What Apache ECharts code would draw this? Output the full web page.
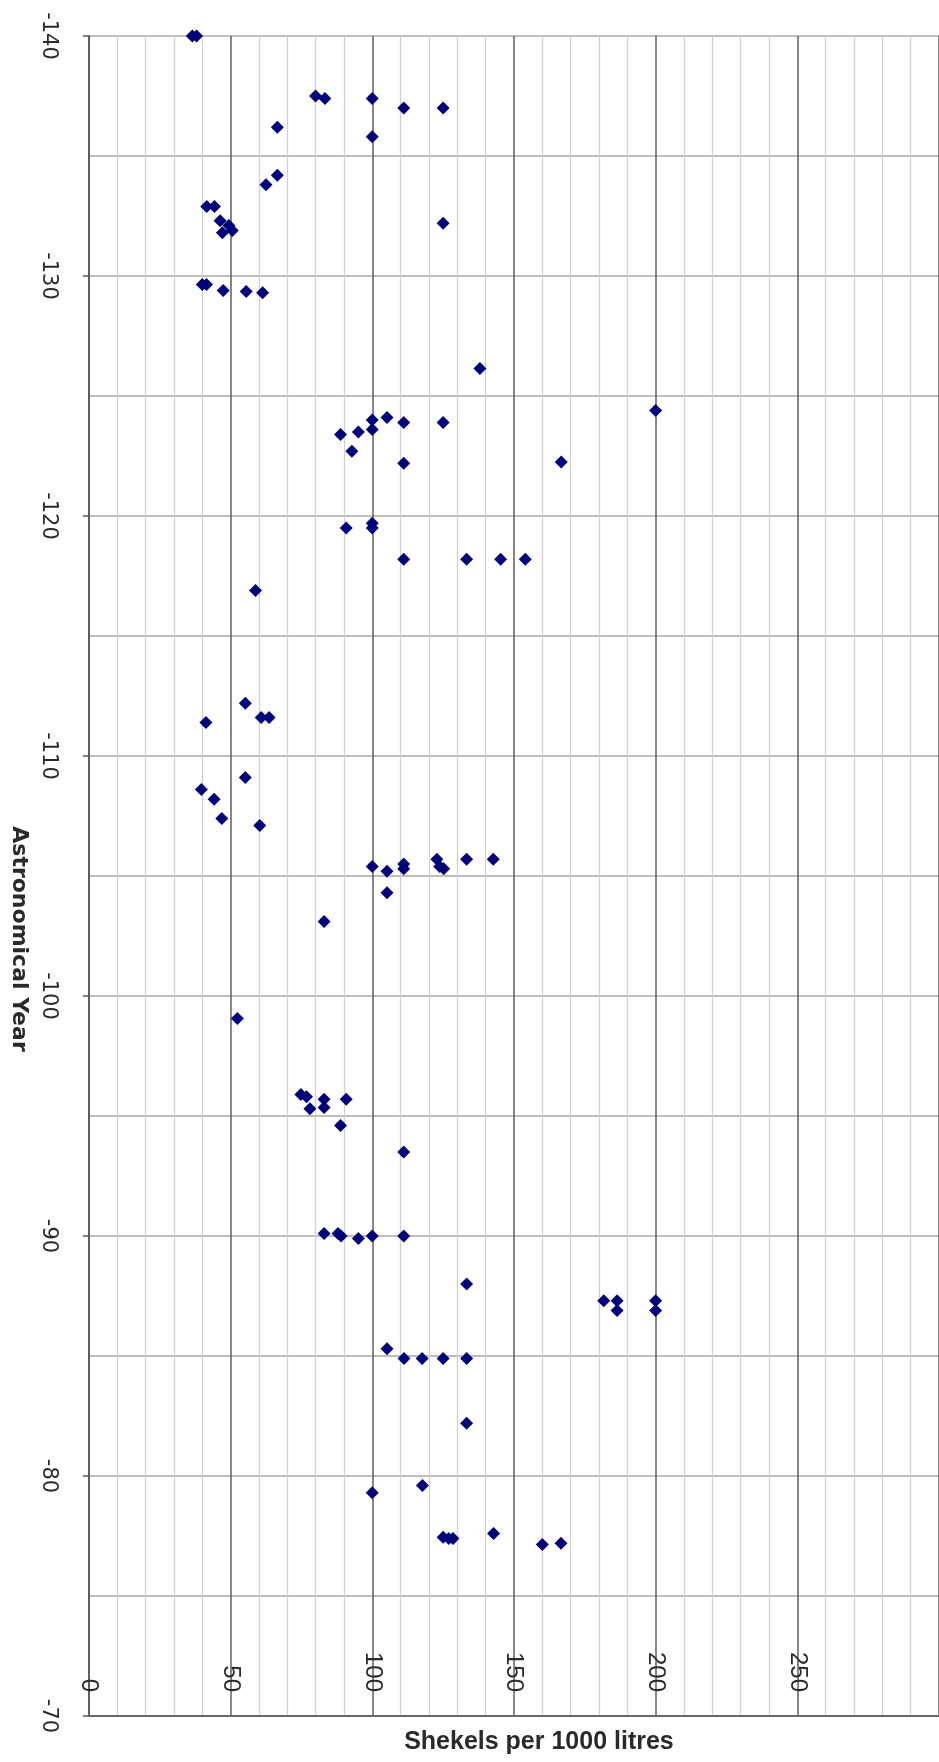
<!DOCTYPE html>
<html>
<head>
<meta charset="utf-8">
<script src="https://cdn.jsdelivr.net/npm/echarts@6/dist/echarts.min.js"></script>
<style>
html,body{margin:0;padding:0;background:#fff;}
#chart{width:939px;height:1762px;}
</style>
</head>
<body>
<div id="chart"></div>
<script>
// Astronomical year of each observation
const years = [
  -140, -140,
  -137.5, -137.4, -137.4, -137.0, -137.0,
  -136.2, -135.8,
  -134.2, -133.8,
  -132.9, -132.9,
  -132.3, -132.1, -131.9, -131.8,
  -132.2,
  -129.65, -129.65, -129.4, -129.35, -129.3,
  -126.15, -124.4,
  -124.0, -124.1, -123.9, -123.9,
  -123.4, -123.5, -123.6, -122.7,
  -122.2, -122.25,
  -119.5, -119.5, -119.7,
  -118.2, -118.2, -118.2, -118.2,
  -116.9,
  -112.2, -111.4, -111.6, -111.6,
  -109.1, -108.6, -108.2, -107.4, -107.1,
  -105.4, -105.2, -105.5, -105.3, -105.7, -105.4, -105.3, -105.7, -105.7,
  -104.3,
  -103.1,
  -99.06,
  -95.9, -95.8, -95.3, -95.7, -95.35, -95.7, -94.6,
  -93.5,
  -90.1, -90.1, -90.0, -89.9, -90.0, -90.0,
  -88.0,
  -87.3, -87.3, -86.9, -87.3, -86.9,
  -85.3, -84.9, -84.9, -84.9, -84.9,
  -82.2,
  -79.3, -79.6,
  -77.45, -77.4, -77.4, -77.6, -77.15, -77.2
];
// Price in shekels per 1000 litres, same order as years
const shekels = [
  36.5, 38,
  80, 83.3, 100, 111.1, 125,
  66.5, 100,
  66.5, 62.5,
  41.6, 44.3,
  46.3, 49.4, 50.6, 47.1,
  125,
  40, 41.5, 47.4, 55.5, 61.3,
  138, 200,
  100, 105.2, 111.1, 125,
  88.8, 95.1, 100, 92.8,
  111.1, 166.7,
  90.8, 100, 100,
  111.1, 133.3, 145.3, 154,
  58.8,
  55.2, 41.3, 60.8, 63.6,
  55.2, 39.7, 44.2, 46.9, 60.3,
  100, 105.2, 111.1, 111.1, 122.8, 123.8, 125.2, 133.3, 142.7,
  105.2,
  83,
  52.4,
  74.8, 76.8, 78, 83, 83, 90.8, 88.8,
  111.1,
  83, 87.9, 89, 95.1, 100, 111.1,
  133.3,
  181.7, 186.4, 186.4, 200, 200,
  105.2, 111.2, 117.6, 125, 133.3,
  133.3,
  100, 117.7,
  125, 127, 128.5, 142.8, 160, 166.6
];
const xRange = [0, 300];
const yRange = [-140, -70];
const xTitle = 'Shekels per 1000 litres';
const yTitle = 'Astronomical Year';

const points = years.map((y, i) => [shekels[i], y]);

const chart = echarts.init(document.getElementById('chart'), null, {renderer: 'canvas'});
chart.setOption({
  animation: false,
  backgroundColor: '#ffffff',
  grid: {left: 84, right: -5, top: 36, bottom: 46, containLabel: false},
  xAxis: {
    type: 'value', min: xRange[0], max: xRange[1], interval: 50,
    position: 'bottom',
    name: xTitle, nameLocation: 'middle', nameGap: 26,
    nameTextStyle: {fontFamily: 'Liberation Sans', fontWeight: 'bold', fontSize: 25, color: '#2a2a2a',
      align: 'center', verticalAlign: 'middle', padding: [0, 0, 0, 50]},
    axisLine: {show: true, onZero: false, lineStyle: {color: '#686868', width: 2}},
    axisTick: {show: false},
    axisLabel: {inside: true, rotate: -90, margin: 24, showMaxLabel: false,
      fontFamily: 'Liberation Sans', fontSize: 24, color: '#2a2a2a'},
    splitLine: {show: true, lineStyle: {color: '#5e5e5e', width: 1.5}},
    minorTick: {show: false, splitNumber: 5},
    minorSplitLine: {show: true, lineStyle: {color: '#cfcfcf', width: 1.2}}
  },
  yAxis: {
    type: 'value', min: yRange[0], max: yRange[1], interval: 10, inverse: true,
    name: yTitle, nameLocation: 'middle', nameRotate: -90, nameGap: 62,
    nameTextStyle: {fontFamily: 'DejaVu Sans', fontWeight: 'bold', fontSize: 22, color: '#2a2a2a',
      align: 'center', verticalAlign: 'middle', padding: [0, 0, 0, 126]},
    axisLine: {show: true, onZero: false, lineStyle: {color: '#5e5e5e', width: 2}},
    axisTick: {show: true, length: 6, lineStyle: {color: '#5e5e5e', width: 1.5}},
    axisLabel: {rotate: -90, margin: 30, fontFamily: 'DejaVu Sans', fontSize: 21, color: '#2a2a2a'},
    splitLine: {show: true, lineStyle: {color: '#a8a8a8', width: 1.5}},
    minorTick: {show: false, splitNumber: 2},
    minorSplitLine: {show: true, lineStyle: {color: '#a8a8a8', width: 1.5}}
  },
  series: [{
    type: 'scatter',
    data: points,
    symbol: 'diamond',
    symbolSize: 13,
    clip: false,
    itemStyle: {color: '#00007a', opacity: 1}
  }]
});
</script>
</body>
</html>
